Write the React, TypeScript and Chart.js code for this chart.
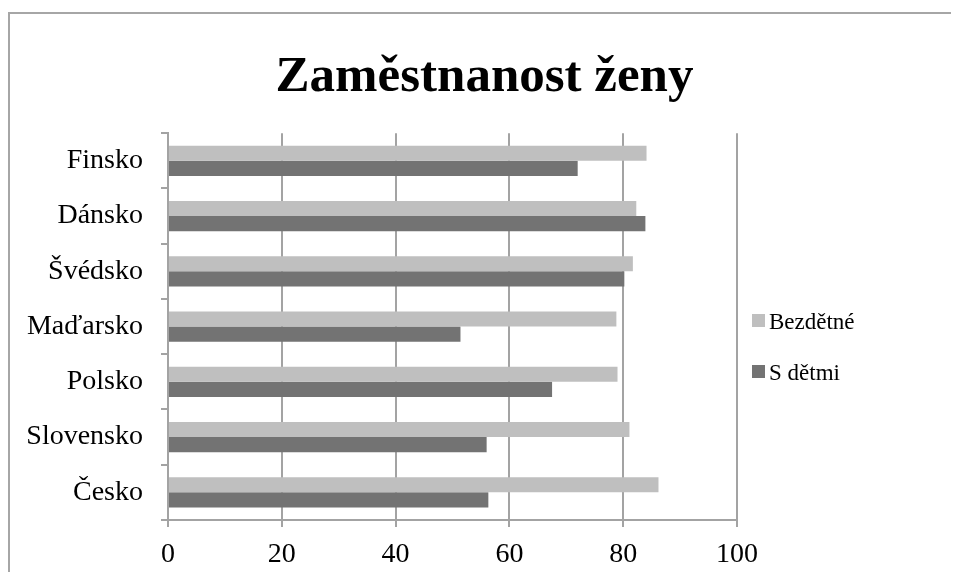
import React, { useEffect, useRef } from 'react';
import { Chart, registerables, layouts } from 'chart.js';

Chart.register(...registerables);

const TITLE = 'Zaměstnanost ženy';
const categories = ['Finsko', 'Dánsko', 'Švédsko', 'Maďarsko', 'Polsko', 'Slovensko', 'Česko'];
const seriesNames = ['Bezdětné', 'S dětmi'];
const bezdetne = [84.1, 82.3, 81.7, 78.8, 79.0, 81.1, 86.2];
const sDetmi = [72.0, 83.9, 80.2, 51.4, 67.5, 56.0, 56.3];
const xMin = 0;
const xMax = 100;
const xStep = 20;

const LIGHT = '#bfbfbf';
const DARK = '#737373';
const GRID = '#a3a3a3';
const FONT = "'Liberation Serif', 'Times New Roman', serif";

const W = 951;
const H = 564;
const LEGEND_W = 222;

const rightLegendPlugin = {
  id: 'rightLegendBox',
  beforeInit(chart: any) {
    const box: any = {
      position: 'right',
      weight: 100,
      fullSize: false,
      options: {},
      left: 0, top: 0, right: 0, bottom: 0, width: 0, height: 0,
      isHorizontal() { return false; },
      update(_maxWidth: number, maxHeight: number) {
        this.width = LEGEND_W;
        this.height = maxHeight;
      },
      draw() {
        const ctx = chart.ctx;
        ctx.save();
        ctx.font = `23px ${FONT}`;
        ctx.textBaseline = 'alphabetic';
        ctx.textAlign = 'left';
        chart.data.datasets.forEach((ds: any, i: number) => {
          const y = 306 + i * 51;
          ctx.fillStyle = ds.backgroundColor;
          ctx.fillRect(this.left + 15, y, 13, 13);
          ctx.fillStyle = '#000';
          ctx.fillText(ds.label, this.left + 32, y + 15);
        });
        ctx.restore();
      },
    };
    layouts.addBox(chart, box);
  },
};

export default function App() {
  const ref = useRef<HTMLCanvasElement>(null);

  useEffect(() => {
    if (!ref.current) return;
    const chart = new Chart(ref.current, {
      type: 'bar',
      data: {
        labels: categories,
        datasets: [
          { label: seriesNames[0], data: bezdetne, backgroundColor: LIGHT, borderWidth: 0 },
          { label: seriesNames[1], data: sDetmi, backgroundColor: DARK, borderWidth: 0 },
        ],
      },
      options: {
        indexAxis: 'y',
        responsive: false,
        maintainAspectRatio: false,
        animation: false,
        layout: { padding: { left: 2, right: 0, top: 0, bottom: 0 } },
        datasets: { bar: { categoryPercentage: 0.55, barPercentage: 1 } },
        plugins: {
          legend: { display: false },
          tooltip: { enabled: false },
          title: {
            display: true,
            text: TITLE,
            color: '#000',
            font: { family: FONT, size: 51, weight: 'bold' },
            padding: { top: 39, bottom: 25 },
          },
        },
        scales: {
          x: {
            min: xMin,
            max: xMax,
            ticks: { stepSize: xStep, color: '#000', font: { family: FONT, size: 28 }, padding: 11 },
            grid: { color: GRID, lineWidth: 2, tickLength: 7, tickColor: GRID, drawTicks: true },
            border: { display: true, color: GRID, width: 2 },
            afterFit: (s: any) => { s.height = 52; },
          },
          y: {
            ticks: { color: '#000', font: { family: FONT, size: 28 }, padding: 18 },
            grid: { drawOnChartArea: false, drawTicks: true, tickLength: 7, tickColor: GRID, lineWidth: 2, offset: true },
            border: { display: true, color: GRID, width: 2 },
            afterFit: (s: any) => { s.width = 158; },
          },
        },
      },
      plugins: [rightLegendPlugin],
    } as any);
    return () => chart.destroy();
  }, []);

  return (
    <div style={{ position: 'relative', width: W, height: H, overflow: 'hidden' }}>
      <div
        style={{
          position: 'absolute',
          left: 0,
          top: 4,
          width: 2000,
          height: 2000,
          borderLeft: '2px solid #a6a6a6',
          borderTop: '2px solid #a6a6a6',
          boxSizing: 'border-box',
        }}
      />
      <canvas
        ref={ref}
        width={W}
        height={H}
        style={{ position: 'absolute', left: 0, top: 0, width: W, height: H }}
      />
    </div>
  );
}
